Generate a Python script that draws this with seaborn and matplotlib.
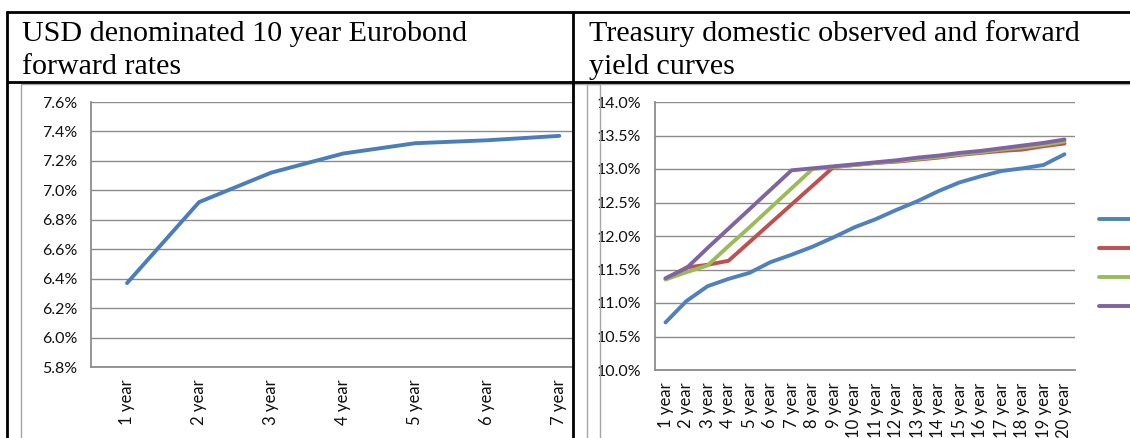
import matplotlib
matplotlib.use("Agg")
import matplotlib.pyplot as plt
import matplotlib.ticker as mticker
from matplotlib.lines import Line2D
from matplotlib.patches import Rectangle
import pandas as pd
import seaborn as sns

# left panel: USD Eurobond forward rates (%)
euro_years = ["1 year", "2 year", "3 year", "4 year", "5 year", "6 year", "7 year"]
euro_rates = [6.37, 6.92, 7.12, 7.25, 7.32, 7.34, 7.37]

# right panel: Treasury observed and forward yield curves (%)
tsy_years = [f"{i} year" for i in range(1, 21)]
tsy_observed = [10.71, 11.03, 11.25, 11.36, 11.45, 11.61, 11.72, 11.84, 11.98, 12.13,
                12.25, 12.39, 12.52, 12.67, 12.80, 12.89, 12.97, 13.01, 13.06, 13.22]
tsy_fwd_a = [11.36, 11.53, 11.57, 11.63, 11.91, 12.19, 12.47, 12.75, 13.03, 13.06,
             13.09, 13.11, 13.14, 13.17, 13.21, 13.24, 13.27, 13.29, 13.34, 13.38]
tsy_fwd_b = [11.35, 11.46, 11.56, 11.85, 12.13, 12.42, 12.71, 13.00, 13.03, 13.06,
             13.09, 13.12, 13.15, 13.18, 13.22, 13.25, 13.29, 13.32, 13.36, 13.41]
tsy_fwd_c = [11.37, 11.52, 11.82, 12.11, 12.40, 12.69, 12.98, 13.01, 13.04, 13.07,
             13.10, 13.13, 13.17, 13.20, 13.24, 13.27, 13.31, 13.35, 13.39, 13.44]
series_names = ["Observed", "Forward A", "Forward B", "Forward C"]
series_colors = ["#4F81BD", "#C0504D", "#9BBB59", "#8064A2"]

W, H = 1130, 438
GRID = "#8c8c8c"
LW = 2.8


def box(l, t, r, b):
    return [l / W, 1 - b / H, (r - l) / W, (b - t) / H]


def fx(x):
    return x / W


def fy(y):
    return 1 - y / H


def style_axis(ax, n, xmax):
    ax.set_xlim(-0.5, xmax)
    ax.set_xlabel("")
    ax.set_ylabel("")
    for s in ["top", "right"]:
        ax.spines[s].set_visible(False)
    for s in ["left", "bottom"]:
        ax.spines[s].set_color(GRID)
        ax.spines[s].set_linewidth(1.3)
    ax.grid(axis="y", color=GRID, linewidth=1.0)
    ax.grid(axis="x", visible=False)
    ax.set_axisbelow(True)
    ax.yaxis.set_major_formatter(mticker.FuncFormatter(lambda v, p: f"{v:.1f}%"))
    ax.tick_params(axis="y", length=4, width=1, color=GRID, labelsize=11.5, pad=6,
                   labelcolor="#111111")
    ax.set_xticks(range(n))
    ax.set_xticks([i - 0.5 for i in range(n + 1) if i - 0.5 <= xmax], minor=True)
    ax.tick_params(axis="x", which="major", length=0, labelsize=12, pad=9,
                   labelrotation=90, labelcolor="#111111")
    ax.tick_params(axis="x", which="minor", length=5, width=1, color=GRID)
    for lab in ax.get_xticklabels():
        lab.set_verticalalignment("top")


sns.set_theme(style="white")
plt.rcParams["font.family"] = ["Lato", "DejaVu Sans"]

fig = plt.figure(figsize=(W / 100, H / 100), dpi=100)
fig.patch.set_facecolor("white")

# chart frames (light grey)
fig.add_artist(Rectangle((fx(21), fy(440)), fx(600) - fx(21), fy(84) - fy(440),
                         transform=fig.transFigure, fill=False, edgecolor="#a6a6a6", lw=1))
fig.add_artist(Rectangle((fx(587), fy(440)), fx(1140) - fx(587), fy(84) - fy(440),
                         transform=fig.transFigure, fill=False, edgecolor="#a6a6a6", lw=1))

# left chart
ax1 = fig.add_axes(box(91, 102, 573, 367))
df1 = pd.DataFrame({"term": euro_years, "rate": euro_rates})
sns.lineplot(data=df1, x="term", y="rate", ax=ax1, color="#4A7EBB", linewidth=LW)
ax1.set_ylim(5.8, 7.6)
ax1.set_yticks([5.8 + 0.2 * i for i in range(10)])
style_axis(ax1, len(euro_years), 6.19)

# right chart
ax2 = fig.add_axes(box(655, 102, 1075, 370))
df2 = pd.DataFrame({
    "term": tsy_years * 4,
    "rate": tsy_observed + tsy_fwd_a + tsy_fwd_b + tsy_fwd_c,
    "curve": sum([[n] * len(tsy_years) for n in series_names], []),
})
sns.lineplot(data=df2, x="term", y="rate", hue="curve", palette=series_colors,
             ax=ax2, linewidth=LW)
ax2.set_ylim(10, 14)
ax2.set_yticks([10 + 0.5 * i for i in range(9)])
style_axis(ax2, len(tsy_years), 19.5)
handles, _ = ax2.get_legend_handles_labels()
ax2.legend(handles, [" "] * 4, loc="upper left", frameon=False,
           bbox_to_anchor=(fx(1099), fy(214)), bbox_transform=fig.transFigure,
           borderpad=0, borderaxespad=0, handlelength=4, fontsize=10,
           labelspacing=1.22, handletextpad=0.3)
for ln in ax2.get_legend().get_lines():
    ln.set_linewidth(LW)

# table borders
black = dict(color="black", lw=2, transform=fig.transFigure, solid_capstyle="butt")
fig.add_artist(Line2D([fx(6), 1], [fy(12), fy(12)], **black))
fig.add_artist(Line2D([fx(6), 1], [fy(82), fy(82)], **black))
fig.add_artist(Line2D([fx(7), fx(7)], [fy(11), 0], **black))
fig.add_artist(Line2D([fx(573), fx(573)], [fy(11), 0], **black))

# titles
serif = dict(family=["Liberation Serif", "DejaVu Serif"], fontsize=21.6, color="black",
             va="baseline", ha="left")
fig.text(fx(22), fy(41), "USD denominated 10 year Eurobond", **serif)
fig.text(fx(22), fy(74), "forward rates", **serif)
fig.text(fx(589), fy(41), "Treasury domestic observed and forward", **serif)
fig.text(fx(589), fy(74), "yield curves", **serif)

fig.savefig("out.png", dpi=100, facecolor="white")
